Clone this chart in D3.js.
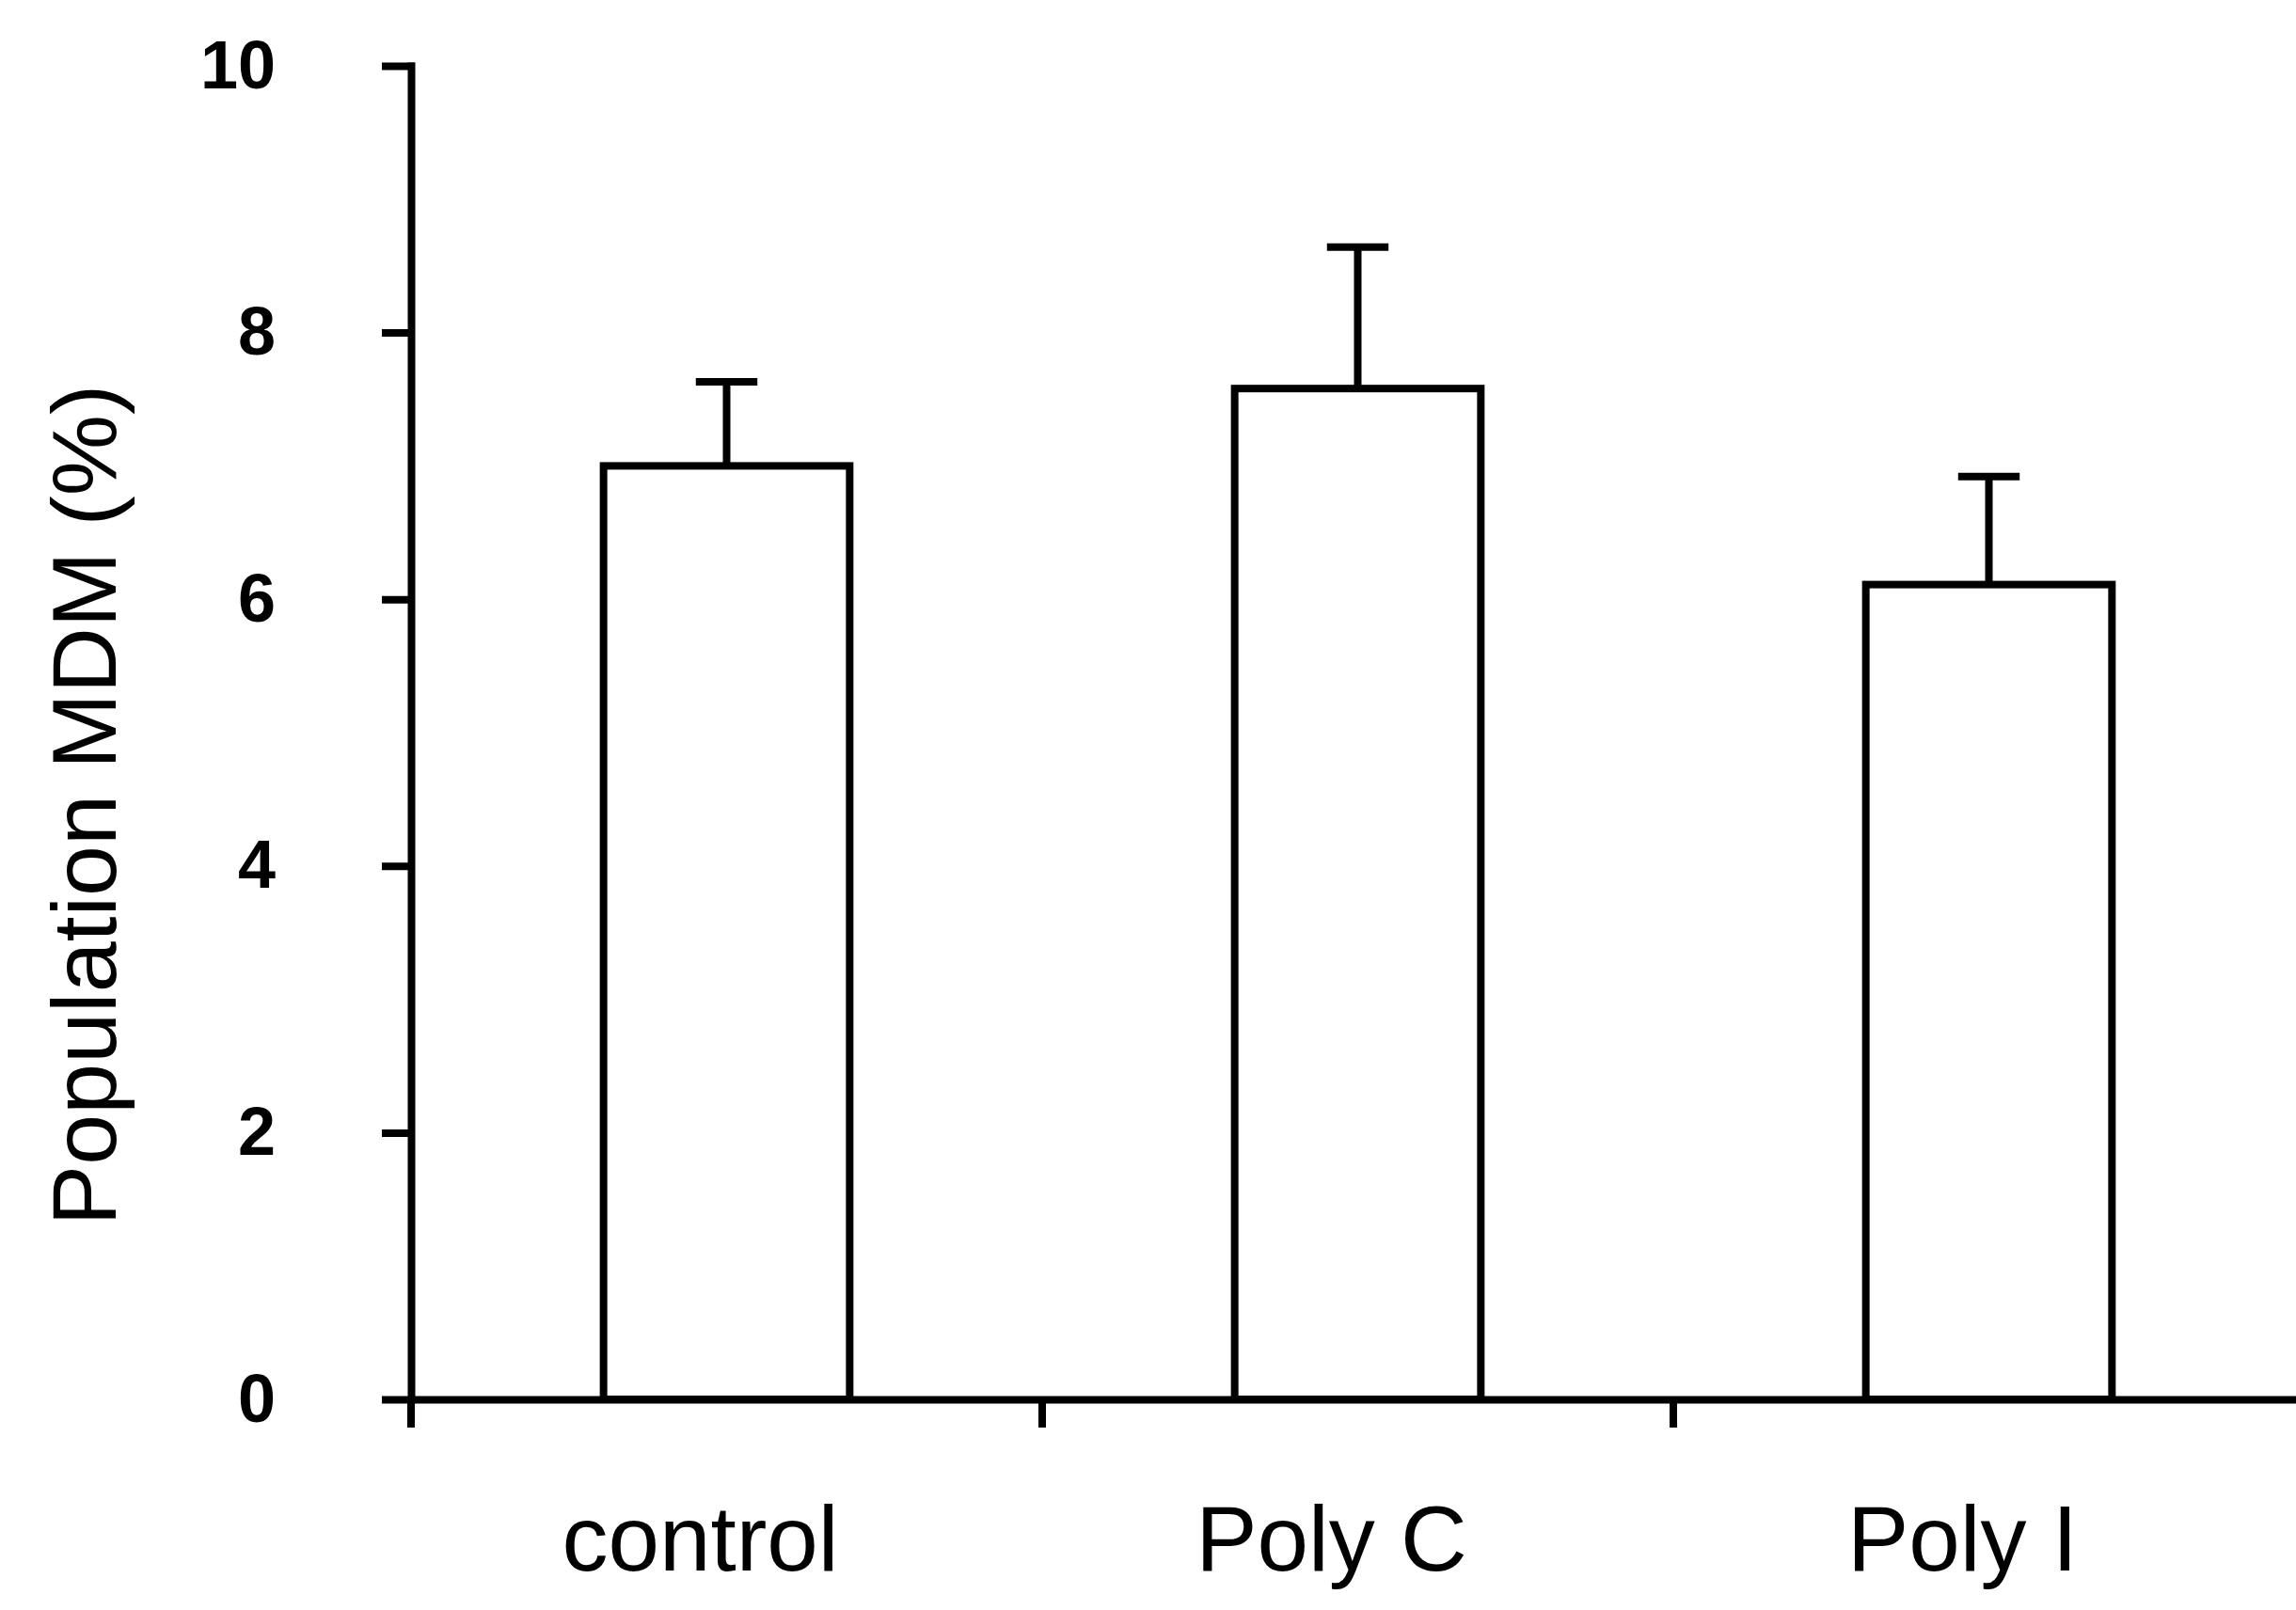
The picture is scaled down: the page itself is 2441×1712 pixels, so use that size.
<!DOCTYPE html>
<html>
<head>
<meta charset="utf-8">
<script src="https://cdn.jsdelivr.net/npm/d3@7"></script>
<style>
  body { margin: 0; background: #fff; }
  svg { display: block; }
</style>
</head>
<body>
<div id="chart-area"></div>
<script>
// DATA
const categories = ["control", "Poly C", "Poly I"];
const means = [7.0, 7.58, 6.11];
const errors = [0.63, 1.06, 0.81];
const yTicks = [0, 2, 4, 6, 8, 10];
const yLabel = "Population MDM (%)";

const margin = { left: 437, right: 0, top: 70, bottom: 224 };
const width = 2013,
    height = 1712 - margin.top - margin.bottom;

const svg = d3.select("#chart-area")
    .append("svg")
    .attr("width", 2441)
    .attr("height", 1712)
    .style("overflow", "hidden");

const g = svg.append("g")
    .attr("transform", "translate(" + margin.left + ", " + margin.top + ")");

const data = categories.map(function (c, i) {
    return { name: c, mean: means[i], err: errors[i] };
});

const x = d3.scaleBand()
    .domain(categories)
    .range([0, width])
    .padding(0);

const y = d3.scaleLinear()
    .domain([0, 10])
    .range([height, 0]);

const barW = x.bandwidth() * 0.39;
const capW = barW * 0.25;
const lw = 8;

// Y AXIS
const yAxisCall = d3.axisLeft(y)
    .tickValues(yTicks)
    .tickSize(27)
    .tickSizeOuter(0)
    .tickPadding(117);
const yAx = g.append("g")
    .attr("class", "y-axis")
    .call(yAxisCall);
yAx.selectAll("path, line")
    .attr("stroke", "#000")
    .attr("stroke-width", lw)
    .attr("stroke-linecap", "square");
yAx.selectAll("text")
    .attr("fill", "#000")
    .style("font-family", "'Liberation Sans', Arial, sans-serif")
    .style("font-weight", "bold")
    .style("font-size", "72px");

// X AXIS (labels centred, ticks on band edges)
const xAxisCall = d3.axisBottom(x)
    .tickSize(0)
    .tickSizeOuter(0)
    .tickPadding(112);
const xAx = g.append("g")
    .attr("class", "x-axis")
    .attr("transform", "translate(0, " + height + ")")
    .call(xAxisCall);
xAx.select("path")
    .attr("stroke", "#000")
    .attr("stroke-width", lw);
xAx.selectAll("text")
    .attr("fill", "#000")
    .attr("dx", -28)
    .style("font-family", "'Liberation Sans', Arial, sans-serif")
    .style("font-size", "98px");

xAx.selectAll(".edge-tick")
    .data(categories)
    .enter()
    .append("line")
    .attr("class", "edge-tick")
    .attr("x1", function (d) { return x(d); })
    .attr("x2", function (d) { return x(d); })
    .attr("y1", 0)
    .attr("y2", 30)
    .attr("stroke", "#000")
    .attr("stroke-width", lw);

// Y LABEL
g.append("text")
    .attr("class", "y axis-label")
    .attr("x", -(856 - margin.top))
    .attr("y", 123 - margin.left)
    .attr("transform", "rotate(-90)")
    .attr("text-anchor", "middle")
    .style("font-family", "'Liberation Sans', Arial, sans-serif")
    .style("font-size", "97px")
    .text(yLabel);

// ERROR BARS
const eb = g.selectAll(".err")
    .data(data)
    .enter()
    .append("g")
    .attr("class", "err");
eb.append("line")
    .attr("x1", function (d) { return x(d.name) + x.bandwidth() / 2; })
    .attr("x2", function (d) { return x(d.name) + x.bandwidth() / 2; })
    .attr("y1", function (d) { return y(d.mean); })
    .attr("y2", function (d) { return y(d.mean + d.err); })
    .attr("stroke", "#000")
    .attr("stroke-width", lw);
eb.append("line")
    .attr("x1", function (d) { return x(d.name) + x.bandwidth() / 2 - capW / 2; })
    .attr("x2", function (d) { return x(d.name) + x.bandwidth() / 2 + capW / 2; })
    .attr("y1", function (d) { return y(d.mean + d.err); })
    .attr("y2", function (d) { return y(d.mean + d.err); })
    .attr("stroke", "#000")
    .attr("stroke-width", lw);

// BARS
g.selectAll("rect.bar")
    .data(data)
    .enter()
    .append("rect")
    .attr("class", "bar")
    .attr("x", function (d) { return x(d.name) + (x.bandwidth() - barW) / 2; })
    .attr("y", function (d) { return y(d.mean); })
    .attr("width", barW)
    .attr("height", function (d) { return height - y(d.mean); })
    .attr("fill", "#fff")
    .attr("stroke", "#000")
    .attr("stroke-width", lw);
</script>
</body>
</html>
